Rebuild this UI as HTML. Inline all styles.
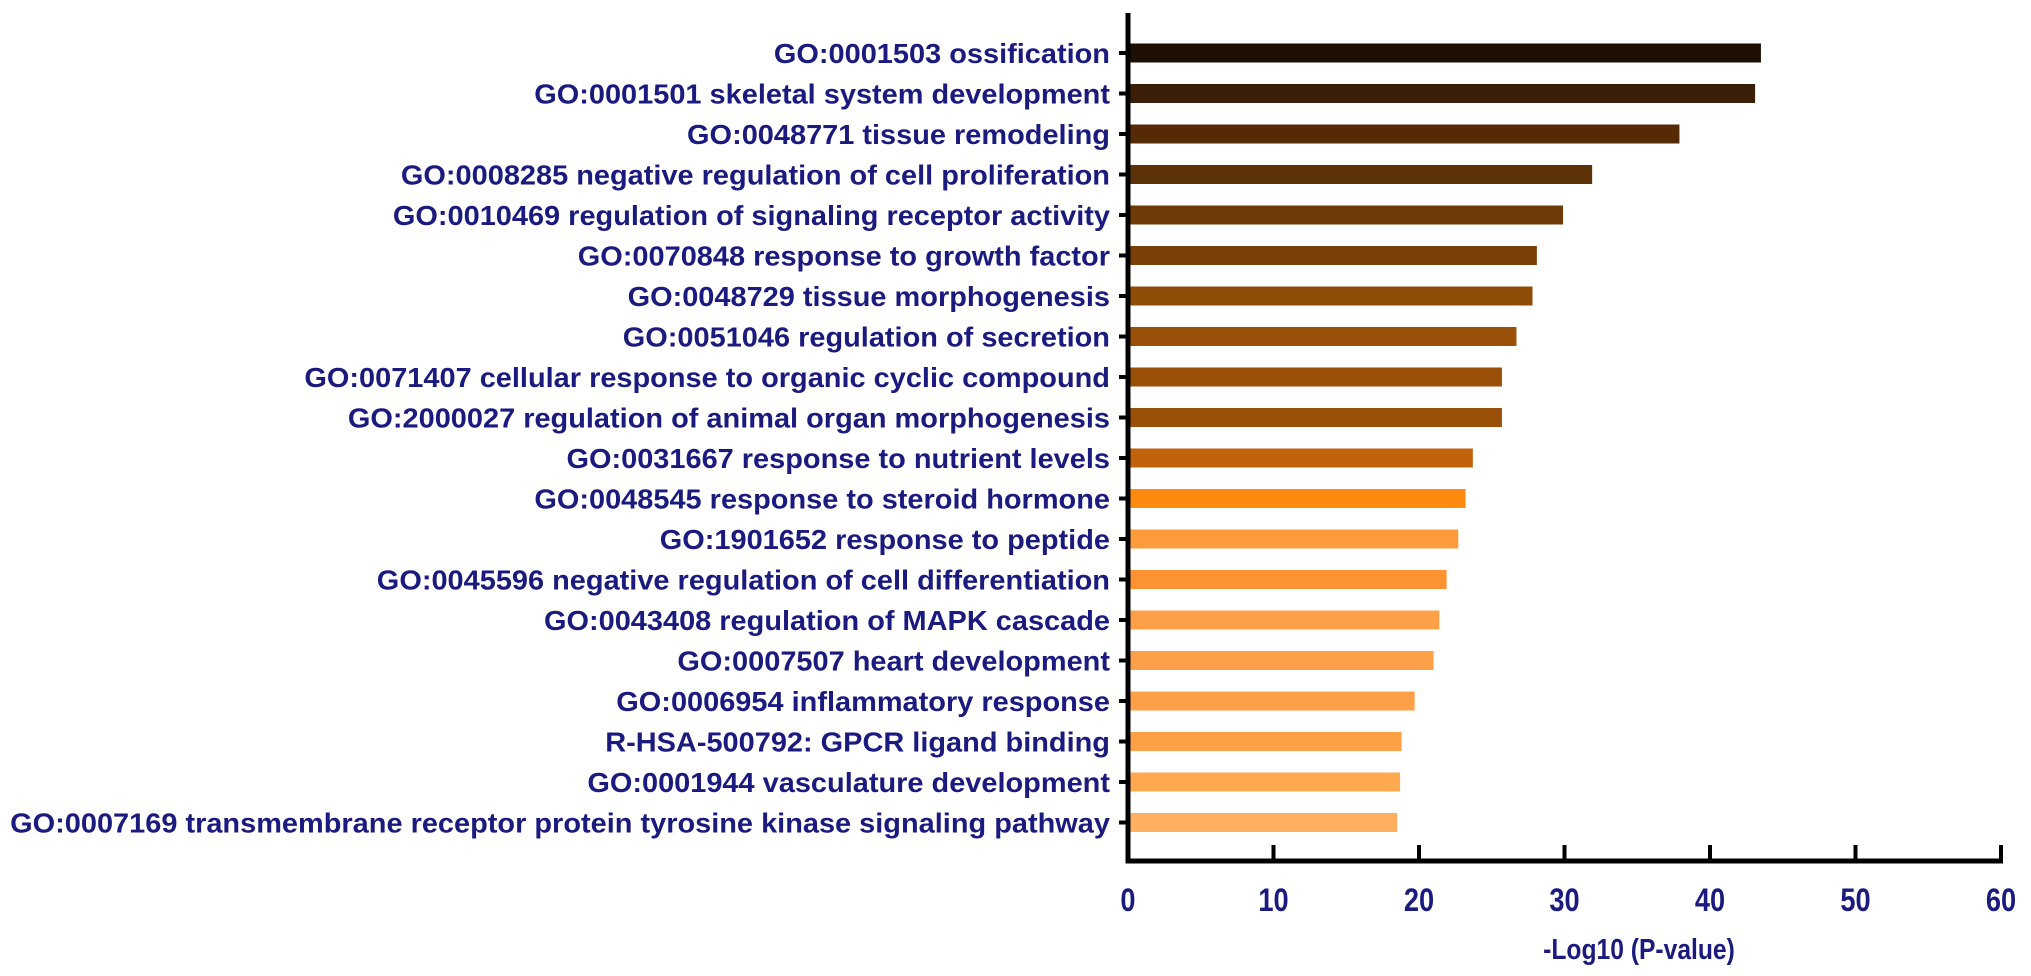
<!DOCTYPE html>
<html><head><meta charset="utf-8"><style>
html,body{margin:0;padding:0;background:#fff;}
svg{display:block;font-family:"Liberation Sans",Arial,sans-serif;}
</style></head><body>
<svg id="chart" width="2031" height="976" viewBox="0 0 2031 976" xmlns="http://www.w3.org/2000/svg"></svg>
<script>
const categories = [
"GO:0001503 ossification",
"GO:0001501 skeletal system development",
"GO:0048771 tissue remodeling",
"GO:0008285 negative regulation of cell proliferation",
"GO:0010469 regulation of signaling receptor activity",
"GO:0070848 response to growth factor",
"GO:0048729 tissue morphogenesis",
"GO:0051046 regulation of secretion",
"GO:0071407 cellular response to organic cyclic compound",
"GO:2000027 regulation of animal organ morphogenesis",
"GO:0031667 response to nutrient levels",
"GO:0048545 response to steroid hormone",
"GO:1901652 response to peptide",
"GO:0045596 negative regulation of cell differentiation",
"GO:0043408 regulation of MAPK cascade",
"GO:0007507 heart development",
"GO:0006954 inflammatory response",
"R-HSA-500792: GPCR ligand binding",
"GO:0001944 vasculature development",
"GO:0007169  transmembrane receptor protein tyrosine kinase signaling pathway"
];
const values = [43.5,43.1,37.9,31.9,29.9,28.1,27.8,26.7,25.7,25.7,23.7,23.2,22.7,21.9,21.4,21.0,19.7,18.8,18.7,18.5];
const barColors = ["#1e0f05","#3a1e08","#562a05","#5e3208","#6e3a06","#7a4008","#8f4c06","#9a5008","#9a5008","#9a5008","#c2620a","#ff8a10","#fd9a3a","#fd9230","#fea048","#fea048","#fea048","#fea046","#fea84f","#feb060"];
const xTicks = [0,10,20,30,40,50,60];
const xTitle = "-Log10 (P-value)";

const NS="http://www.w3.org/2000/svg";
const svg=document.getElementById('chart');
const X0=1128, X1=2001, XMAX=60;
const Y0=53, STEP=40.5, BARH=19, AXB=861, AXT=13;
const xs=v=>X0+(v/XMAX)*(X1-X0);
const ys=i=>Y0+i*STEP;
function mk(tag,attrs){const e=document.createElementNS(NS,tag);for(const k in attrs)e.setAttribute(k,attrs[k]);svg.appendChild(e);return e;}

values.forEach((v,i)=>{
  const r=mk('rect',{x:X0,y:ys(i)-BARH/2,width:xs(v)-X0,height:BARH,fill:barColors[i]});
  
  
});
const ya=mk('line',{x1:X0,y1:AXT,x2:X0,y2:AXB+2.5,stroke:'#000','stroke-width':5});


const xa=mk('line',{x1:X0-2.5,y1:AXB,x2:X1+2,y2:AXB,stroke:'#000','stroke-width':5});


const labels=[];
categories.forEach((c,i)=>{
  const t=mk('line',{x1:X0-9,y1:ys(i),x2:X0,y2:ys(i),stroke:'#000','stroke-width':4});
  
  
  const tx=mk('text',{x:1110,y:ys(i)+10,'text-anchor':'end','font-size':28,'font-weight':'bold',fill:'#1b1a7e'});
  tx.textContent=c;
  
  
  labels.push(tx);
});
let maxW=0;labels.forEach(l=>{maxW=Math.max(maxW,l.getComputedTextLength());});
const sc=maxW>0?1100/maxW:1;
labels.forEach(l=>{l.setAttribute('transform','translate(1110,0) scale('+sc+',1) translate(-1110,0)');});
xTicks.forEach(v=>{
  const x=xs(v);
  if(v>0){
    const t=mk('line',{x1:x,y1:AXB-16,x2:x,y2:AXB,stroke:'#000','stroke-width':4});
    
    
  }
  const l=mk('text',{x:x,y:911,'text-anchor':'middle','font-size':32,'font-weight':'bold',fill:'#1b1a7e',transform:'translate('+x+',0) scale(0.85,1) translate('+(-x)+',0)'});
  l.textContent=String(v);
  
  
});
const tt=mk('text',{x:1639,y:959,'text-anchor':'middle','font-size':29,'font-weight':'bold',fill:'#1b1a7e',transform:'translate(1639,0) scale(0.85,1) translate(-1639,0)'});
tt.textContent=xTitle;


</script>
</body></html>
